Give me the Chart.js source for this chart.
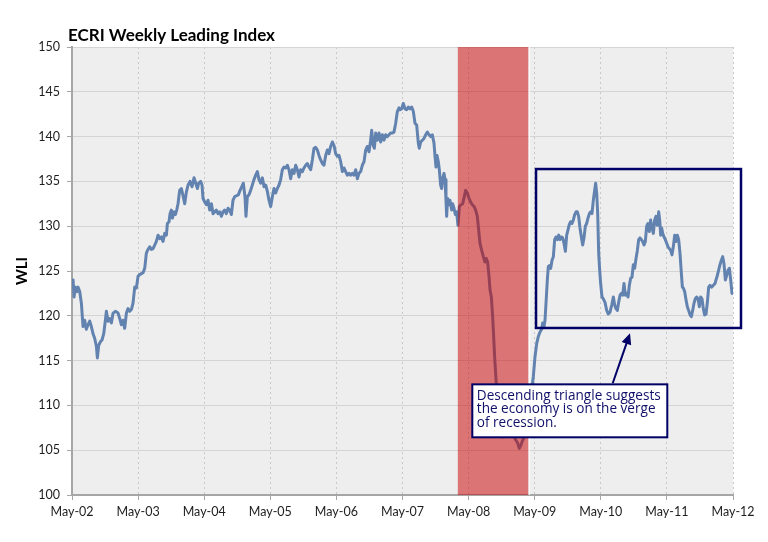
<!DOCTYPE html>
<html>
<head>
<meta charset="utf-8">
<script src="https://cdn.jsdelivr.net/npm/chart.js@4.4.1/dist/chart.umd.min.js"></script>
<style>
body{margin:0;background:#fff;}
#wrap{width:768px;height:542px;position:relative;}
</style>
</head>
<body>
<div id="wrap"><canvas id="wli-chart"></canvas></div>
<script>
// x axis: decimal years, ticks every May
const tickYears = [2002.333, 2003.333, 2004.333, 2005.333, 2006.333, 2007.333, 2008.333, 2009.333, 2010.333, 2011.333, 2012.333];
const tickLabels = ["May-02", "May-03", "May-04", "May-05", "May-06", "May-07", "May-08", "May-09", "May-10", "May-11", "May-12"];

// recession shading (decimal years)
const recessionStart = 2008.17;
const recessionEnd = 2009.24;

// weekly leading index: [decimal year, WLI]
const wli2002to2004 = [[2002.349,124.0],[2002.364,122.1],[2002.384,123.2],[2002.409,122.7],[2002.424,123.2],[2002.450,122.7],[2002.475,121.4],[2002.500,118.8],[2002.525,119.5],[2002.550,118.5],
  [2002.576,119.0],[2002.601,119.4],[2002.626,118.8],[2002.651,118.0],[2002.676,117.5],[2002.702,116.6],[2002.717,115.3],[2002.737,116.7],[2002.762,117.1],[2002.787,117.3],
  [2002.813,118.0],[2002.838,119.5],[2002.853,120.5],[2002.878,119.4],[2002.903,119.7],[2002.929,119.2],[2002.954,120.3],[2002.989,120.5],[2003.030,120.3],[2003.055,119.7],
  [2003.080,119.0],[2003.105,119.5],[2003.130,118.6],[2003.156,120.3],[2003.181,120.8],[2003.206,120.5],[2003.231,120.7],[2003.256,121.4],[2003.282,123.2],[2003.307,123.1],
  [2003.332,124.4],[2003.357,124.6],[2003.383,124.7],[2003.408,124.8],[2003.433,125.3],[2003.458,127.0],[2003.483,127.4],[2003.509,127.7],[2003.534,127.4],[2003.559,127.5],
  [2003.584,127.9],[2003.609,128.3],[2003.635,129.0],[2003.660,128.6],[2003.685,128.8],[2003.710,128.3],[2003.736,129.2],[2003.761,129.0],[2003.776,130.3],[2003.801,130.5],
  [2003.816,131.4],[2003.836,131.8],[2003.852,130.9],[2003.877,131.6],[2003.897,131.3],[2003.917,131.8],[2003.937,132.5],[2003.962,134.0],[2003.988,134.2],[2004.013,133.4],
  [2004.038,132.5],[2004.063,133.8],[2004.089,134.6],[2004.119,135.0],[2004.149,134.4],[2004.179,135.4],[2004.205,134.8],[2004.230,134.2],[2004.250,134.8],[2004.280,135.0],
  [2004.300,134.6],[2004.315,133.1],[2004.341,132.7],[2004.366,132.4],[2004.391,132.9],[2004.416,131.8],[2004.442,132.5],[2004.467,131.4],[2004.492,131.6],[2004.517,131.8],
  [2004.542,131.4],[2004.568,131.6],[2004.593,131.1],[2004.618,131.6],[2004.643,131.8],[2004.668,131.4],[2004.694,132.0],[2004.719,131.8],[2004.744,131.3],[2004.769,132.9],
  [2004.795,133.3],[2004.820,133.4]];

const wli2004to2007 = [[2004.849,133.5],[2004.875,134.0],[2004.900,134.4],[2004.925,134.8],[2004.950,133.3],[2004.965,131.1],[2004.986,133.3],[2005.011,133.5],[2005.036,134.0],[2005.061,134.6],
  [2005.086,135.2],[2005.112,135.7],[2005.137,136.1],[2005.162,135.2],[2005.187,134.8],[2005.213,135.4],[2005.238,134.4],[2005.263,134.6],[2005.288,133.9],[2005.313,132.9],
  [2005.339,132.2],[2005.364,133.3],[2005.389,134.2],[2005.414,133.7],[2005.439,134.2],[2005.465,134.6],[2005.490,135.2],[2005.515,136.3],[2005.540,136.6],[2005.566,136.5],
  [2005.591,136.8],[2005.616,136.3],[2005.641,135.3],[2005.666,136.3],[2005.692,135.9],[2005.717,136.8],[2005.742,136.3],[2005.767,135.5],[2005.792,136.3],[2005.818,136.1],
  [2005.843,136.5],[2005.868,136.8],[2005.893,137.0],[2005.919,136.6],[2005.944,136.3],[2005.969,137.4],[2005.994,138.7],[2006.019,138.8],[2006.045,138.5],[2006.070,137.9],
  [2006.095,137.4],[2006.120,137.0],[2006.145,136.8],[2006.171,137.9],[2006.196,138.5],[2006.221,138.1],[2006.246,138.9],[2006.272,139.4],[2006.297,139.0],[2006.322,138.1],
  [2006.347,137.8],[2006.372,137.9],[2006.398,137.2],[2006.423,136.1],[2006.448,136.5],[2006.473,136.1],[2006.498,135.7],[2006.524,135.9],[2006.549,135.7],[2006.574,135.9],
  [2006.599,135.7],[2006.625,136.3],[2006.650,135.3],[2006.675,135.9],[2006.700,136.1],[2006.725,136.8],[2006.751,137.2],[2006.776,138.5],[2006.801,138.9],[2006.826,138.3],
  [2006.851,139.6],[2006.867,140.7],[2006.887,139.1],[2006.907,138.7],[2006.927,140.4],[2006.952,139.6],[2006.978,140.4],[2007.003,139.4],[2007.028,140.2],[2007.053,139.6],
  [2007.078,140.2],[2007.104,140.0],[2007.129,140.2],[2007.154,140.4],[2007.179,140.4],[2007.204,140.5],[2007.230,141.5],[2007.255,142.8],[2007.280,143.2]];

const wli2007to2009 = [[2007.295,143.0],[2007.320,143.1],[2007.345,143.7],[2007.371,143.1],[2007.396,143.0],[2007.421,143.3],[2007.446,143.1],[2007.472,143.3],[2007.497,142.8],[2007.522,141.5],
  [2007.547,141.3],[2007.572,139.3],[2007.587,138.7],[2007.608,139.4],[2007.633,139.6],[2007.658,139.8],[2007.683,140.2],[2007.709,140.5],[2007.734,140.2],[2007.759,140.0],
  [2007.784,140.2],[2007.809,139.3],[2007.825,137.8],[2007.840,136.6],[2007.855,137.9],[2007.875,137.2],[2007.890,136.3],[2007.910,134.6],[2007.925,134.2],[2007.940,135.3],
  [2007.961,135.9],[2007.976,135.2],[2007.991,132.9],[2008.001,131.1],[2008.016,133.1],[2008.036,132.4],[2008.051,132.9],[2008.077,131.8],[2008.092,132.5],[2008.112,132.0],
  [2008.132,131.3],[2008.152,131.6],[2008.172,130.1],[2008.193,132.2],[2008.218,132.4],[2008.243,132.5],[2008.268,133.3],[2008.288,134.0],[2008.314,133.7],[2008.339,133.1],
  [2008.364,132.7],[2008.389,132.4],[2008.415,132.2],[2008.440,131.8],[2008.465,131.1],[2008.485,129.6],[2008.505,128.1],[2008.531,127.3],[2008.556,126.6],[2008.581,126.0],
  [2008.601,126.4],[2008.621,126.0],[2008.642,124.4],[2008.657,122.9],[2008.677,122.1],[2008.697,119.9],[2008.712,117.7],[2008.727,115.4],[2008.742,113.6],[2008.757,111.7],
  [2008.778,109.5],[2008.798,107.6],[2008.823,106.5],[2008.858,106.5],[2008.899,106.7],[2008.939,106.8],[2008.979,106.7],[2009.020,106.5],[2009.050,106.1],[2009.075,105.8],
  [2009.100,105.2],[2009.126,105.6],[2009.151,106.1],[2009.176,106.5],[2009.201,106.8],[2009.226,108.0],[2009.262,109.5],[2009.287,111.7],[2009.312,113.2],[2009.337,115.4],
  [2009.363,116.9],[2009.388,117.7],[2009.413,118.2],[2009.438,118.5],[2009.453,119.2],[2009.474,118.8]];

const wli2009to2012 = [[2009.489,119.5],[2009.504,121.4],[2009.524,124.0],[2009.539,125.5],[2009.554,125.6],[2009.575,125.3],[2009.595,126.2],[2009.615,126.6],[2009.635,128.5],[2009.655,128.8],
  [2009.676,128.5],[2009.696,129.0],[2009.716,128.5],[2009.736,128.8],[2009.756,128.7],[2009.776,128.1],[2009.797,127.2],[2009.817,129.0],[2009.837,129.6],[2009.857,130.2],
  [2009.877,130.5],[2009.897,130.3],[2009.918,130.7],[2009.938,131.3],[2009.958,131.6],[2009.978,131.6],[2009.998,131.1],[2010.018,129.8],[2010.039,128.8],[2010.059,127.9],
  [2010.079,128.7],[2010.099,130.0],[2010.119,130.3],[2010.139,130.9],[2010.160,131.4],[2010.180,131.6],[2010.200,131.4],[2010.220,132.9],[2010.240,134.0],[2010.255,134.8],
  [2010.271,133.7],[2010.286,131.4],[2010.301,127.0],[2010.316,125.1],[2010.331,123.6],[2010.351,122.1],[2010.371,121.9],[2010.397,121.5],[2010.422,120.6],[2010.447,120.2],
  [2010.472,120.4],[2010.498,121.2],[2010.523,122.1],[2010.543,121.2],[2010.563,120.8],[2010.583,120.6],[2010.603,121.5],[2010.624,122.3],[2010.644,122.5],[2010.664,122.3],
  [2010.684,123.6],[2010.704,122.3],[2010.724,122.5],[2010.745,122.1],[2010.765,123.4],[2010.785,124.2],[2010.805,124.3],[2010.825,125.7],[2010.845,125.3],[2010.866,126.4],
  [2010.886,127.3],[2010.906,128.5],[2010.926,128.7],[2010.946,128.5],[2010.966,128.3],[2010.987,127.9],[2011.007,128.3],[2011.027,130.0],[2011.047,130.3],[2011.067,129.4],
  [2011.087,130.7],[2011.108,129.8],[2011.128,129.2],[2011.148,130.7],[2011.168,131.1],[2011.188,130.1],[2011.209,131.6],[2011.224,130.7],[2011.239,129.0],[2011.254,129.8],
  [2011.269,129.2],[2011.289,128.8],[2011.309,128.5],[2011.330,128.1],[2011.350,127.7],[2011.370,127.5],[2011.390,127.3],[2011.410,126.8],[2011.430,127.7],[2011.451,129.0],
  [2011.471,128.3],[2011.491,129.0],[2011.511,128.5],[2011.531,127.0],[2011.552,124.7],[2011.567,123.2],[2011.582,123.1],[2011.602,122.7],[2011.622,121.8],[2011.642,121.0],
  [2011.662,120.6],[2011.683,120.1],[2011.703,119.9],[2011.723,120.6],[2011.743,121.4],[2011.763,121.9],[2011.784,122.1],[2011.804,121.9],[2011.824,121.0],[2011.844,122.1],
  [2011.864,121.9],[2011.884,120.8],[2011.904,120.1],[2011.925,120.2],[2011.945,121.5],[2011.965,123.2],[2011.985,123.4],[2012.010,123.2],[2012.036,123.4],[2012.061,123.6],
  [2012.076,124.0],[2012.096,124.5],[2012.116,125.1],[2012.136,125.7],[2012.157,126.2],[2012.177,126.6],[2012.197,125.8],[2012.217,124.0],[2012.237,124.5],[2012.258,125.1],
  [2012.278,125.3],[2012.298,124.0],[2012.318,122.5]];

// annotation: box around the "triangle" and the callout (in data units)
const triangleBox = {x0: 2009.353, x1: 2012.454, yTop: 136.38, yBottom: 118.64};
const calloutBox = {x0: 2008.389, x1: 2011.339, yTop: 112.35, yBottom: 106.44};
const arrowFrom = {x: 2010.513, y: 112.47};
const arrowTo = {x: 2010.775, y: 118.05};
const calloutLines = ["Descending triangle suggests", "the economy is on the verge", "of recession."];

const allPoints = [].concat(wli2002to2004, wli2004to2007, wli2007to2009, wli2009to2012)
  .map(p => ({x: p[0], y: p[1]}));

const NAVY = "#000066";

// gray plot area
const plotBackground = {
  id: "plotBackground",
  beforeDraw(chart){
    const {ctx, chartArea: a} = chart;
    ctx.save();
    ctx.fillStyle = "#EEEEEE";
    ctx.fillRect(a.left, a.top, a.right - a.left, a.bottom - a.top);
    ctx.restore();
  }
};

// red recession band on top of the line
const recessionBand = {
  id: "recessionBand",
  afterDatasetsDraw(chart){
    const {ctx, chartArea: a, scales} = chart;
    const x0 = scales.x.getPixelForValue(recessionStart);
    const x1 = scales.x.getPixelForValue(recessionEnd);
    ctx.save();
    ctx.fillStyle = "rgba(200,0,0,0.51)";
    ctx.fillRect(x0, a.top, x1 - x0, a.bottom - a.top);
    ctx.fillStyle = "rgba(255,255,255,0.85)";
    ctx.fillRect(x1, a.top, 1.5, a.bottom - a.top);
    ctx.restore();
  }
};

// title, axis title and the annotations
const decorations = {
  id: "decorations",
  afterDraw(chart){
    const {ctx, scales} = chart;
    const px = v => scales.x.getPixelForValue(v);
    const py = v => scales.y.getPixelForValue(v);
    ctx.save();

    ctx.fillStyle = "#000";
    ctx.font = "bold 17px Lato";
    ctx.textAlign = "left";
    ctx.textBaseline = "alphabetic";
    ctx.fillText("ECRI Weekly Leading Index", 68, 41);

    ctx.save();
    ctx.translate(22, 271);
    ctx.rotate(-Math.PI / 2);
    ctx.font = "bold 15px Lato";
    ctx.textAlign = "center";
    ctx.textBaseline = "middle";
    ctx.fillText("WLI", 0, 0);
    ctx.restore();

    // box round the triangle
    ctx.strokeStyle = NAVY;
    ctx.lineWidth = 2.5;
    const bx0 = px(triangleBox.x0), bx1 = px(triangleBox.x1);
    const by0 = py(triangleBox.yTop), by1 = py(triangleBox.yBottom);
    ctx.strokeRect(bx0, by0, bx1 - bx0, by1 - by0);

    // arrow
    const ax0 = px(arrowFrom.x), ay0 = py(arrowFrom.y);
    const ax1 = px(arrowTo.x), ay1 = py(arrowTo.y);
    const ang = Math.atan2(ay1 - ay0, ax1 - ax0);
    const headLen = 11, headW = 5;
    ctx.lineWidth = 2;
    ctx.beginPath();
    ctx.moveTo(ax0, ay0);
    ctx.lineTo(ax1 - Math.cos(ang) * headLen * 0.8, ay1 - Math.sin(ang) * headLen * 0.8);
    ctx.stroke();
    ctx.fillStyle = NAVY;
    ctx.beginPath();
    ctx.moveTo(ax1, ay1);
    ctx.lineTo(ax1 - Math.cos(ang) * headLen - Math.sin(ang) * headW, ay1 - Math.sin(ang) * headLen + Math.cos(ang) * headW);
    ctx.lineTo(ax1 - Math.cos(ang) * headLen + Math.sin(ang) * headW, ay1 - Math.sin(ang) * headLen - Math.cos(ang) * headW);
    ctx.closePath();
    ctx.fill();

    // callout
    const cx0 = px(calloutBox.x0), cx1 = px(calloutBox.x1);
    const cy0 = py(calloutBox.yTop), cy1 = py(calloutBox.yBottom);
    ctx.fillStyle = "#FFFFFF";
    ctx.fillRect(cx0, cy0, cx1 - cx0, cy1 - cy0);
    ctx.lineWidth = 2;
    ctx.strokeRect(cx0, cy0, cx1 - cx0, cy1 - cy0);
    ctx.fillStyle = "#10106A";
    // size the text so the first line fills the box like in the original
    ctx.font = "14px 'Open Sans'";
    const w = ctx.measureText(calloutLines[0]).width;
    const size = Math.min(15, 14 * 184 / w);
    ctx.font = size.toFixed(2) + "px 'Open Sans'";
    ctx.textAlign = "left";
    ctx.textBaseline = "alphabetic";
    calloutLines.forEach((line, i) => {
      ctx.fillText(line, cx0 + 4.5, cy0 + 15.5 + i * 13.4);
    });

    ctx.restore();
  }
};

new Chart("wli-chart", {
  type: "line",
  data: {
    datasets: [{
      data: allPoints,
      borderColor: "#6283B0",
      borderWidth: 3,
      pointRadius: 0,
      tension: 0,
      borderJoinStyle: "round",
      borderCapStyle: "round"
    }]
  },
  options: {
    responsive: true,
    maintainAspectRatio: false,
    animation: false,
    events: [],
    layout: {padding: {top: 47, right: 35, bottom: 0, left: 0}},
    plugins: {legend: {display: false}, tooltip: {enabled: false}},
    scales: {
      x: {
        type: "linear",
        min: tickYears[0],
        max: tickYears[tickYears.length - 1],
        afterBuildTicks: scale => { scale.ticks = tickYears.map(v => ({value: v})); },
        afterFit: scale => { scale.height = 47; },
        ticks: {
          autoSkip: false,
          maxRotation: 0,
          padding: 4,
          color: "#1E1E1E",
          font: {family: "Lato", size: 12.5},
          callback: (value, index) => tickLabels[index]
        },
        grid: {color: "#C8C8C8", lineWidth: 1, tickLength: 5, tickColor: "#A6A6A6", tickBorderDash: []},
        border: {color: "#A6A6A6", width: 2, dash: [2, 3]}
      },
      y: {
        min: 100,
        max: 150,
        afterFit: scale => { scale.width = 72; },
        ticks: {
          stepSize: 5,
          padding: 7,
          color: "#1E1E1E",
          font: {family: "Lato", size: 12.5}
        },
        grid: {color: "#D4D4D4", lineWidth: 1, tickLength: 5, tickColor: "#A6A6A6"},
        border: {color: "#A6A6A6", width: 2}
      }
    }
  },
  plugins: [plotBackground, recessionBand, decorations]
});
</script>
</body>
</html>
